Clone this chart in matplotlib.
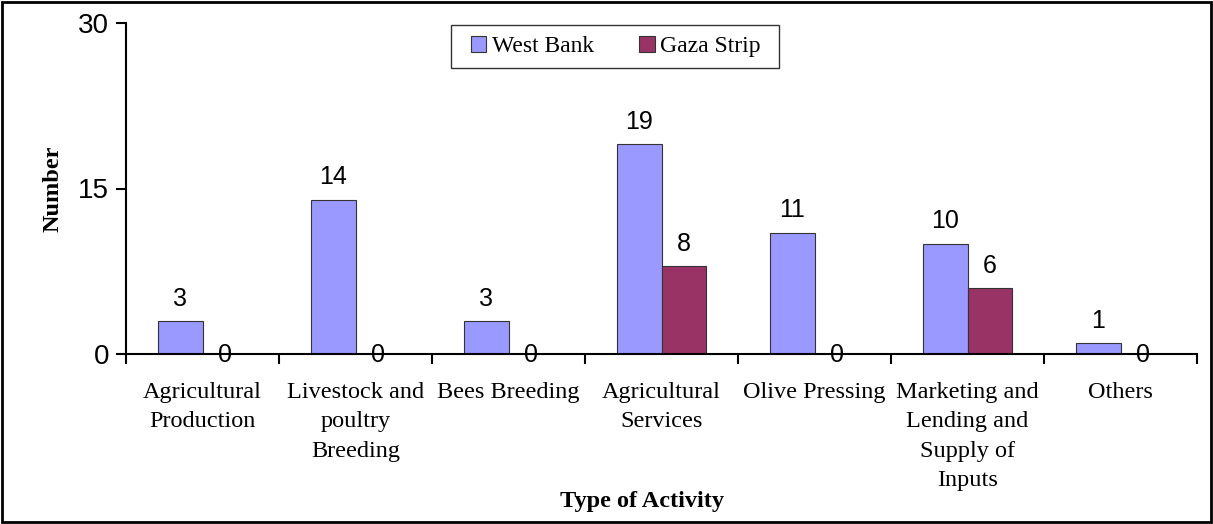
import matplotlib.pyplot as plt
import numpy as np

categorias = ['Agricultural\nProduction', 'Livestock and\npoultry\nBreeding', 'Bees Breeding',
              'Agricultural\nServices', 'Olive Pressing', 'Marketing and\nLending and\nSupply of\nInputs',
              'Others']
west_bank = [3, 14, 3, 19, 11, 10, 1]
gaza_strip = [0, 0, 0, 8, 0, 6, 0]
y_ticks = [0, 15, 30]

serif = 'Liberation Serif'
sans = 'Liberation Sans'

fig = plt.figure(figsize=(12.13, 5.24), dpi=100)
ax = fig.add_axes([126 / 1213, 1 - 354 / 524, 1071 / 1213, 331 / 524])

x = np.arange(len(categorias))
w = 0.29
b1 = ax.bar(x - w / 2, west_bank, w, color='#9999FF', edgecolor='#333333', linewidth=0.8, label='West Bank')
b2 = ax.bar(x + w / 2, gaza_strip, w, color='#993366', edgecolor='#333333', linewidth=0.8, label='Gaza Strip')

# etiquetas de datos
for bars, vals in [(b1, west_bank), (b2, gaza_strip)]:
    for rect, v in zip(bars, vals):
        cx = rect.get_x() + rect.get_width() / 2
        dy = -1 if v == 0 else 16
        ax.annotate(str(v), (cx, v), xytext=(0, dy), textcoords='offset points',
                    ha='center', va='center', fontsize=18, family=sans)

ax.set_xlim(-0.5, len(categorias) - 0.5)
ax.set_ylim(0, 30)
ax.set_yticks(y_ticks)
ax.set_yticklabels([str(t) for t in y_ticks], fontsize=20, family=sans)
ax.tick_params(axis='y', direction='out', length=7, width=1.5, pad=5)

ax.set_xticks(np.arange(len(categorias) + 1) - 0.5)
ax.set_xticklabels([])
ax.tick_params(axis='x', direction='out', length=7, width=1.5)
for i, c in enumerate(categorias):
    ax.text(i, -0.085, c, transform=ax.get_xaxis_transform(), ha='center', va='top',
            fontsize=17.5, family=serif, linespacing=1.52)

for s in ['top', 'right']:
    ax.spines[s].set_visible(False)
for s in ['left', 'bottom']:
    ax.spines[s].set_linewidth(1.5)

fig.text(53 / 1213, 1 - 189 / 524, 'Number', rotation=90, ha='center', va='center',
         fontsize=17.5, fontweight='bold', family=serif)
fig.text(642 / 1213, 1 - 502 / 524, 'Type of Activity', ha='center', va='center',
         fontsize=17.5, fontweight='bold', family=serif)

leg = ax.legend(loc='center', bbox_to_anchor=(616 / 1213, 1 - 46.5 / 524), bbox_transform=fig.transFigure,
                ncol=2, frameon=False, prop={'family': serif, 'size': 17},
                handlelength=0.65, handleheight=0.65, handletextpad=0.25, columnspacing=1.9,
                borderpad=0.45, borderaxespad=0)
# marco de la leyenda
fig.patches.append(plt.Rectangle((451 / 1213, 1 - 68 / 524), 328 / 1213, 43 / 524, transform=fig.transFigure,
                                 fill=False, edgecolor='#333333', linewidth=1.0))

# borde exterior
fig.patches.append(plt.Rectangle((0.002, 0.003), 0.996, 0.994, transform=fig.transFigure,
                                 fill=False, edgecolor='black', linewidth=2))

fig.savefig('out.png', dpi=100)
